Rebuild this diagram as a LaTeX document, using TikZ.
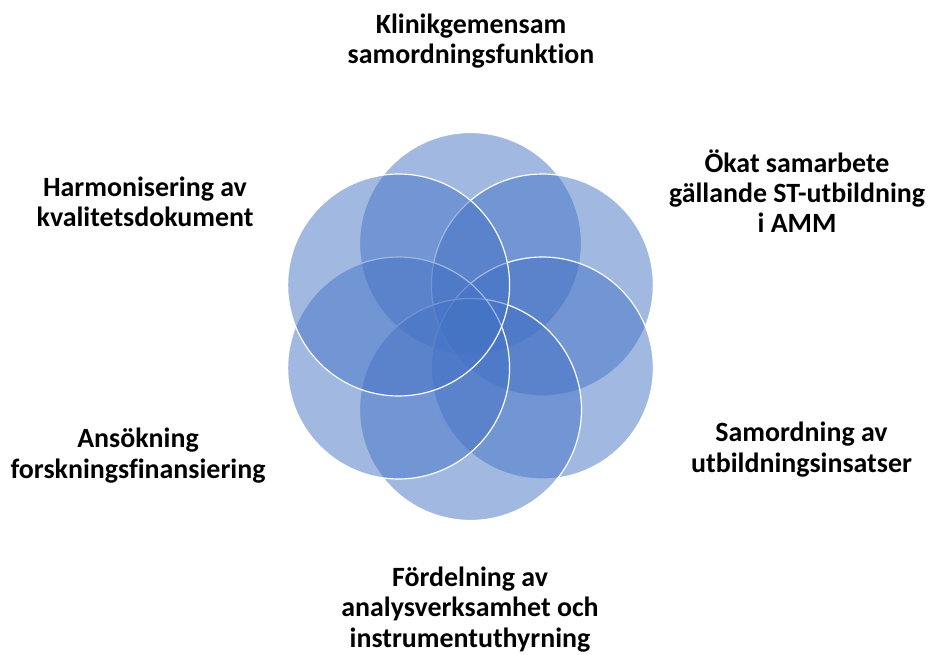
\documentclass[tikz,border=0pt]{standalone}
\usepackage{fontspec}
\setmainfont{Carlito}[Ligatures=NoCommon]
\definecolor{vennblue}{RGB}{68,114,196}
\tikzset{
  venn/.style={circle, minimum size=222pt, inner sep=0pt, fill=vennblue, fill opacity=0.5, draw=white, draw opacity=1, line width=1.2pt},
  lbl/.style={align=center, anchor=base, inner sep=0pt, font=\bfseries\fontsize{27.9}{30.3}\selectfont}
}
\begin{document}
\begin{tikzpicture}[x=1pt,y=-1pt]
\useasboundingbox (0,0) rectangle (935,655);
\node[venn] (ct) at (470.5,243.5) {};
\node[venn] (cur) at (542.4,285) {};
\node[venn] (clr) at (542.4,368) {};
\node[venn] (cb) at (470.5,409.5) {};
\node[venn] (cll) at (398.6,368) {};
\node[venn] (cul) at (398.6,285) {};
\node[lbl] (lt) at (471,63.5) {Klinikgemensam\\samordningsfunktion};
\node[lbl] (lur) at (797,233) {Ökat samarbete\\gällande ST-utbildning\\i AMM};
\node[lbl] (llr) at (801.5,472) {Samordning av\\utbildningsinsatser};
\node[lbl] (lb) at (470,647) {Fördelning av\\analysverksamhet och\\instrumentuthyrning};
\node[lbl] (lll) at (138,478) {Ansökning\\forskningsfinansiering};
\node[lbl] (lul) at (145,227) {Harmonisering av\\kvalitetsdokument};
\end{tikzpicture}
\end{document}
